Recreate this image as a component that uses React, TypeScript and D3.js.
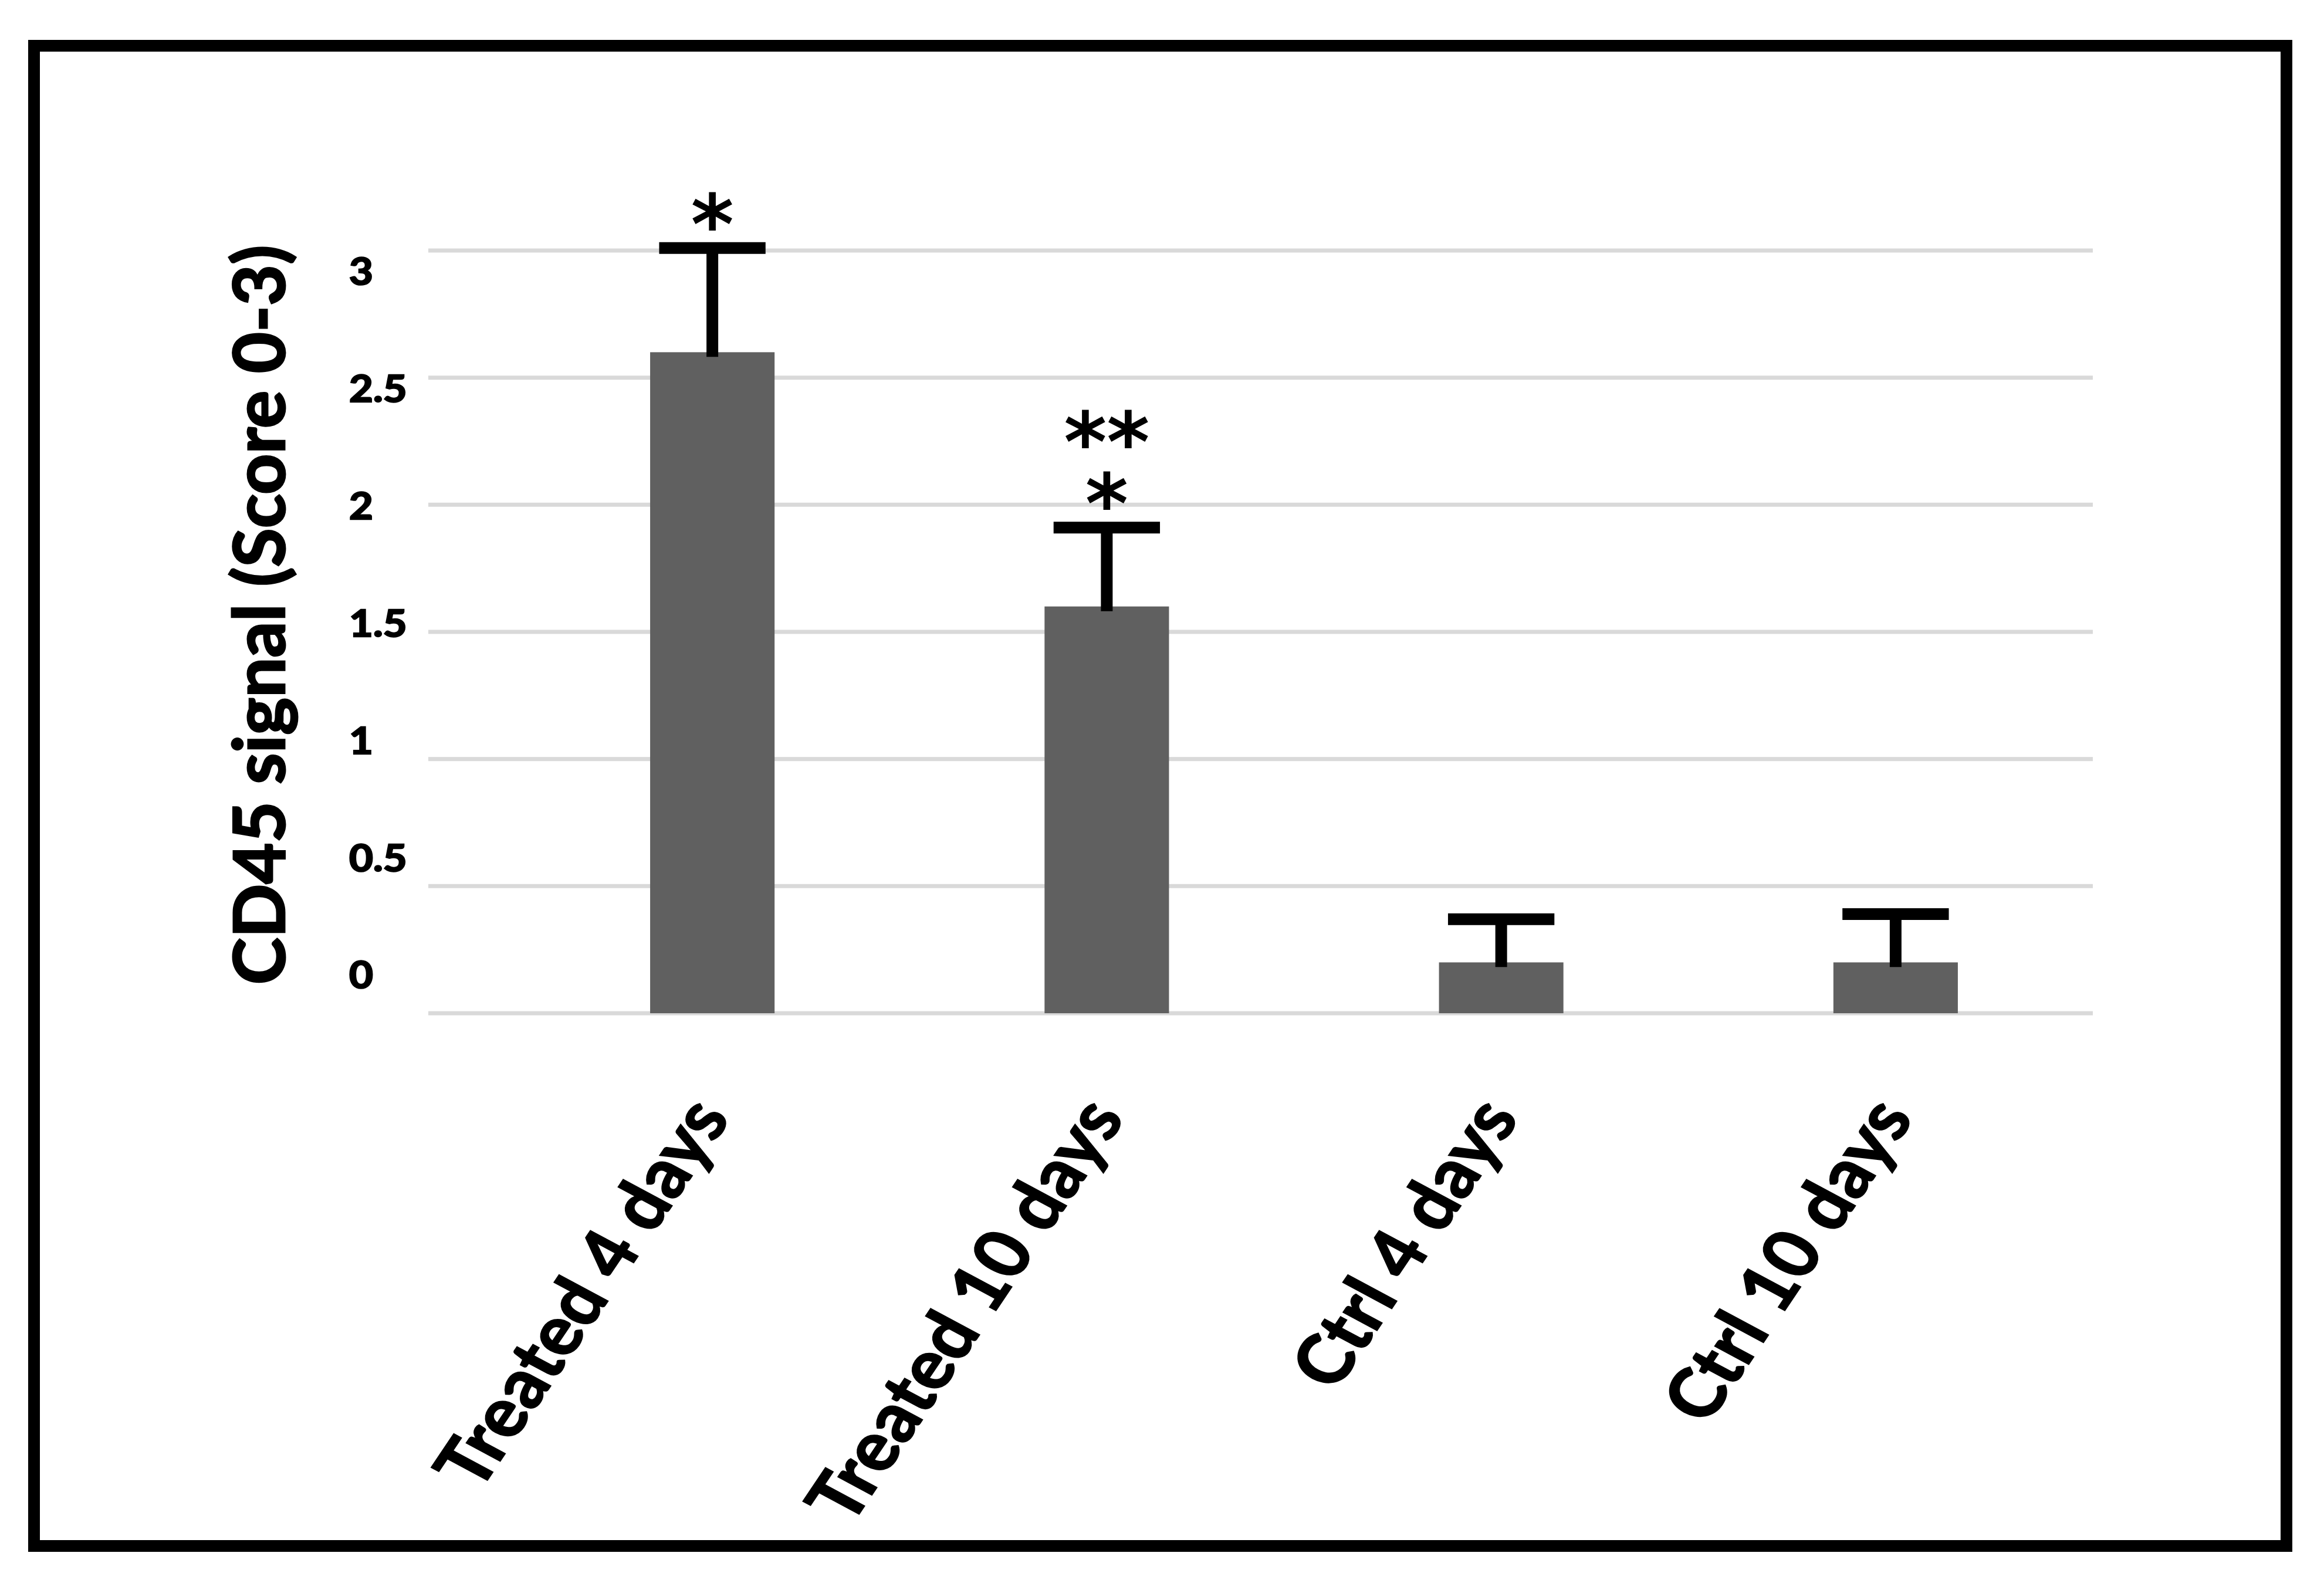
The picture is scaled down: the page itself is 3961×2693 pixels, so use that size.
import React from "react";
import * as d3 from "d3";

const categories = ["Treated 4 days", "Treated 10 days", "Ctrl 4 days", "Ctrl 10 days"];
const means = [2.6, 1.6, 0.2, 0.2];
const errors = [0.41, 0.31, 0.17, 0.19];
const significance = [["*"], ["**", "*"], [], []];
const yTicks = [0, 0.5, 1, 1.5, 2, 2.5, 3];
const yTickLabels = ["0", "0.5", "1", "1.5", "2", "2.5", "3"];
const yTitle = "CD45 signal (Score 0-3)";

const W = 3961;
const H = 2693;
const FONT = "Lato, 'Open Sans', sans-serif";

export default function App() {
  const x = d3
    .scaleBand<string>()
    .domain(categories)
    .range([878, 3567])
    .paddingInner(0.6845)
    .paddingOuter(0.34225);
  const y = d3.scaleLinear().domain([0, 3]).range([1727, 427]);
  const yLab = d3.scaleLinear().domain([0, 3]).range([1660, 461]);
  const bw = x.bandwidth();
  const capW = bw * 0.855;

  return (
    <svg
      width={W}
      height={H}
      viewBox={`0 0 ${W} ${H}`}
      style={{ position: "absolute", left: 0, top: 0, background: "#fff" }}
    >
      <rect x={0} y={0} width={W} height={H} fill="#fff" />
      {/* gridlines */}
      {yTicks.map((t) => (
        <line key={"g" + t} x1={730} x2={3567} y1={y(t)} y2={y(t)} stroke="#d9d9d9" strokeWidth={7} />
      ))}
      {/* tick labels */}
      {yTicks.map((t, i) => (
        <text
          key={"t" + t}
          transform={`translate(595,${yLab(t)}) scale(1.12,1)`}
          fontFamily={FONT}
          fontWeight={700}
          fontSize={63}
          dominantBaseline="central"
          textAnchor="start"
          fill="#000"
          stroke="#000"
          strokeWidth={2.5}
        >
          {yTickLabels[i]}
        </text>
      ))}
      {/* y title */}
      <text
        transform={`translate(485,1048) rotate(-90)`}
        fontFamily={FONT}
        fontWeight={700}
        fontSize={121}
        textAnchor="middle"
        fill="#000"
        stroke="#000"
        strokeWidth={3}
      >
        {yTitle}
      </text>
      {/* bars */}
      {categories.map((c, i) => (
        <rect key={"b" + c} x={x(c)!} y={y(means[i])} width={bw} height={y(0) - y(means[i])} fill="#606060" />
      ))}
      {/* error bars */}
      {categories.map((c, i) => {
        const cx = x(c)! + bw / 2;
        const top = y(means[i] + errors[i]);
        return (
          <g key={"e" + c}>
            <line x1={cx} x2={cx} y1={y(means[i]) + 8} y2={top} stroke="#000" strokeWidth={20} />
            <line x1={cx - capW / 2} x2={cx + capW / 2} y1={top} y2={top} stroke="#000" strokeWidth={20} />
          </g>
        );
      })}
      {/* significance stars */}
      {categories.map((c, i) => {
        if (!significance[i].length) return null;
        const cx = x(c)! + bw / 2;
        const top = y(means[i] + errors[i]);
        const n = significance[i].length;
        const firstCy = top - 65 - (n - 1) * 105;
        return (
          <text
            key={"s" + c}
            x={cx}
            y={firstCy + 74}
            fontFamily="'DejaVu Sans', sans-serif"
            fontWeight={700}
            fontSize={140}
            textAnchor="middle"
            fill="#000"
          >
            {significance[i].map((s, j) => (
              <tspan key={j} x={cx} dy={j === 0 ? 0 : 105}>
                {s}
              </tspan>
            ))}
          </text>
        );
      })}
      {/* x labels */}
      {categories.map((c) => {
        const cx = x(c)! + bw / 2;
        return (
          <text
            key={"x" + c}
            transform={`translate(${cx + 32},1905) scale(1.12,1) rotate(-59)`}
            fontFamily={FONT}
            fontWeight={700}
            fontSize={116}
            textAnchor="end"
            fill="#000"
            stroke="#000"
            strokeWidth={2.5}
          >
            {c}
          </text>
        );
      })}
      {/* outer border */}
      <rect x={58} y={78} width={3839} height={2557} fill="none" stroke="#000" strokeWidth={20} />
    </svg>
  );
}
